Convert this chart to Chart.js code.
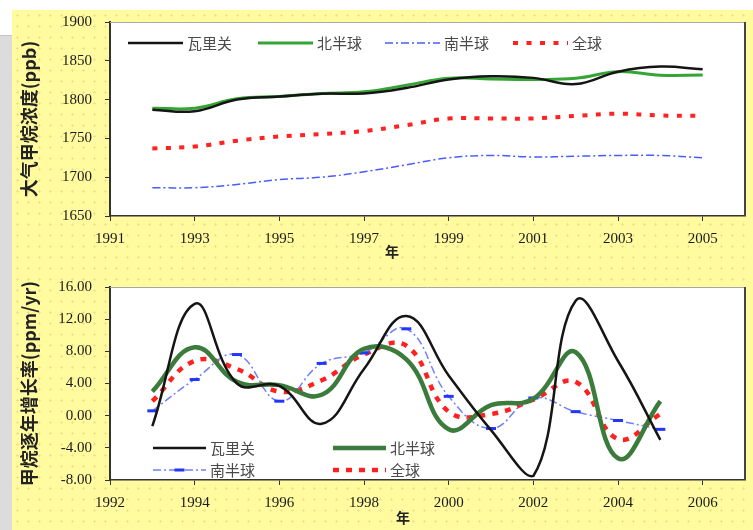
<!DOCTYPE html>
<html><head><meta charset="utf-8">
<script src="https://cdn.jsdelivr.net/npm/chart.js@4/dist/chart.umd.min.js"></script>
<style>
html,body{margin:0;padding:0;background:#fff;}
#page{position:relative;width:753px;height:530px;overflow:hidden;background:#fff;}
#gray{position:absolute;left:0;top:35px;width:12px;height:495px;background:#dcdcdc;border-top:1px solid #c4c4c4;}
#yellow{position:absolute;left:12px;top:10px;width:741px;height:520px;background-color:#fffb9e;background-image:radial-gradient(circle,#ece08a 0.9px,transparent 1.4px);background-size:11px 11px;}
.wrap{position:absolute;left:0;width:753px;height:265px;}
</style></head>
<body><div id="page"><div id="gray"></div><div id="yellow"></div>
<div class="wrap" style="top:0"><canvas id="c1" width="753" height="265"></canvas></div>
<div class="wrap" style="top:265px"><canvas id="c2" width="753" height="265"></canvas></div>
</div>
<script>
// ---------- data ----------
const seriesNames = ['瓦里关', '北半球', '南半球', '全球'];
const yearsTop = [1992,1993,1994,1995,1996,1997,1998,1999,2000,2001,2002,2003,2004,2005];
const topWaliguan = [1787,1785,1800,1804,1807.6,1808,1815,1826,1830,1828,1820,1836,1842.5,1839];
const topNorth    = [1789,1789,1801,1804,1808,1810,1818.5,1827.5,1826.6,1826,1827.5,1836,1831.5,1831.6];
const topSouth    = [1686.5,1686.5,1690.7,1697,1700,1707,1716,1725,1728,1726,1727,1728,1728,1725];
const topGlobal   = [1737,1739.5,1747,1752.5,1755.5,1759.5,1767,1775.6,1775.6,1775.8,1779,1781.8,1779.5,1779];
const topXTicks   = [1991,1993,1995,1997,1999,2001,2003,2005];

const yearsBottom = [1993,1994,1995,1996,1997,1998,1999,2000,2001,2002,2003,2004,2005];
const rateWaliguan = [-1.3,13.9,4.0,3.7,-1.0,5.8,12.4,5.0,-1.8,-7.5,14.3,6.8,-3.0];
const rateNorth    = [3.0,8.5,4.2,3.8,2.6,8.3,7.0,-1.7,1.3,2.1,7.9,-5.3,1.8];
const rateSouth    = [0.6,4.5,7.6,1.8,6.5,7.8,10.8,2.4,-1.6,2.2,0.5,-0.6,-1.7];
const rateGlobal   = [1.8,6.8,5.8,3.0,4.4,7.6,8.7,0.5,0.2,2.0,4.2,-2.9,0.2];
const bottomXTicks = [1992,1994,1996,1998,2000,2002,2004,2006];

const topYTitle = '大气甲烷浓度(ppb)';
const bottomYTitle = '甲烷逐年增长率(ppm/yr)';
const xTitle = '年';

// ---------- helpers ----------
const pts = (xs, ys) => xs.map((x, i) => ({x, y: ys[i]}));
const CJK = "'Noto Sans CJK SC','Noto Sans',sans-serif";
const SERIF = "'Liberation Serif','DejaVu Serif',serif";
const tickFont = {family: SERIF, size: 15};

function frameAndTextPlugin(cfg) {
  return {
    id: 'frameText',
    beforeDraw(chart) {
      const {ctx, chartArea: a} = chart;
      ctx.save();
      ctx.fillStyle = '#fff';
      ctx.fillRect(a.left, a.top, a.right - a.left, a.bottom - a.top);
      ctx.restore();
    },
    afterDraw(chart) {
      const {ctx, chartArea: a} = chart;
      ctx.save();
      ctx.strokeStyle = '#a8a8a8'; ctx.lineWidth = 1;
      ctx.beginPath(); ctx.moveTo(a.left, a.top + 0.5); ctx.lineTo(a.right, a.top + 0.5); ctx.stroke();
      ctx.strokeStyle = '#444'; ctx.lineWidth = 2;
      ctx.beginPath(); ctx.moveTo(a.right, a.top); ctx.lineTo(a.right, a.bottom); ctx.stroke();
      ctx.font = '15px ' + CJK;
      ctx.textBaseline = 'middle';
      cfg.legend.forEach(it => {
        const ds = chart.data.datasets[it.i];
        ctx.beginPath();
        ctx.strokeStyle = ds.borderColor;
        ctx.lineWidth = ds.borderWidth;
        ctx.setLineDash(ds.borderDash || []);
        ctx.moveTo(it.x, it.y); ctx.lineTo(it.x + it.len, it.y); ctx.stroke();
        ctx.setLineDash([]);
        if (ds.pointRadius) {
          ctx.beginPath();
          ctx.strokeStyle = ds.pointBorderColor; ctx.lineWidth = ds.pointBorderWidth;
          const mx = it.x + it.len / 2;
          ctx.moveTo(mx - ds.pointRadius, it.y); ctx.lineTo(mx + ds.pointRadius, it.y); ctx.stroke();
        }
        ctx.fillStyle = '#4a4a4a';
        ctx.textAlign = 'left';
        ctx.fillText(ds.label, it.x + it.len + 4, it.y);
      });
      ctx.font = 'bold 14px ' + CJK;
      ctx.fillStyle = '#222';
      ctx.textAlign = 'center';
      ctx.fillText(xTitle, cfg.xTitle.x, cfg.xTitle.y);
      ctx.restore();
    }
  };
}

function makeChart(id, o) {
  return new Chart(document.getElementById(id), {
    type: 'line',
    data: {datasets: o.datasets},
    options: {
      responsive: false, animation: false, events: [],
      layout: {padding: o.padding},
      plugins: {legend: {display: false}, tooltip: {enabled: false}},
      elements: {point: {radius: 0}, line: {tension: 0.42}},
      scales: {
        x: {
          type: 'linear', min: o.xMin, max: o.xMax,
          ticks: {autoSkip: false, maxRotation: 0,
                  font: tickFont, color: '#1a1a1a', padding: 9, callback: v => String(v)},
          afterBuildTicks: s => { s.ticks = o.xTicks.map(v => ({value: v})); },
          grid: {drawOnChartArea: false, tickLength: 5, color: '#333'},
          border: {color: '#333', width: 1.5},
          afterFit: s => { s.height = o.xAxisH; }
        },
        y: {
          min: o.yMin, max: o.yMax,
          ticks: {stepSize: o.yStep, font: tickFont, color: '#1a1a1a', padding: 13,
                  callback: o.yFmt},
          grid: {drawOnChartArea: false, tickLength: 5, color: '#333'},
          border: {color: '#333', width: 2},
          title: {display: true, text: o.yTitle, color: '#222',
                  font: {family: CJK, size: 18, weight: 'bold'}, padding: {top: 6, bottom: 0}},
          afterFit: s => { s.width = 98; }
        }
      }
    },
    plugins: [frameAndTextPlugin(o.extra)]
  });
}

makeChart('c1', {
  padding: {left: 12, top: 15, right: 8, bottom: 4},
  xMin: 1991, xMax: 2006, xAxisH: 45, xTicks: topXTicks,
  yMin: 1650, yMax: 1900, yStep: 50, yFmt: v => String(v),
  yTitle: topYTitle,
  datasets: [
    {label: seriesNames[0], data: pts(yearsTop, topWaliguan), borderColor: '#151515', borderWidth: 2.5},
    {label: seriesNames[1], data: pts(yearsTop, topNorth), borderColor: '#35a535', borderWidth: 3},
    {label: seriesNames[2], data: pts(yearsTop, topSouth), borderColor: '#4a5cff', borderWidth: 1.5, borderDash: [8,3,2,3]},
    {label: seriesNames[3], data: pts(yearsTop, topGlobal), borderColor: '#ff2222', borderWidth: 4, borderDash: [5,8.5]}
  ],
  extra: {
    legend: [{i:0,x:128,y:43,len:55},{i:1,x:258,y:43,len:55},{i:2,x:385,y:43,len:55},{i:3,x:513,y:43,len:55}],
    xTitle: {x: 392, y: 252}
  }
});

makeChart('c2', {
  padding: {left: 12, top: 12, right: 7, bottom: 5},
  xMin: 1992, xMax: 2007, xAxisH: 45, xTicks: bottomXTicks,
  yMin: -8, yMax: 16, yStep: 4, yFmt: v => v.toFixed(2),
  yTitle: bottomYTitle,
  datasets: [
    {label: seriesNames[0], data: pts(yearsBottom, rateWaliguan), borderColor: '#151515', borderWidth: 2.5},
    {label: seriesNames[1], data: pts(yearsBottom, rateNorth), borderColor: '#3b7b3b', borderWidth: 4.5},
    {label: seriesNames[2], data: pts(yearsBottom, rateSouth), borderColor: '#6f80ff', borderWidth: 1.5, borderDash: [8,3,2,3],
     pointStyle: 'line', pointRadius: 5, pointBorderWidth: 3, pointBorderColor: '#2236ff'},
    {label: seriesNames[3], data: pts(yearsBottom, rateGlobal), borderColor: '#ff2020', borderWidth: 4.5, borderDash: [6,7]}
  ],
  extra: {
    legend: [{i:0,x:153,y:183,len:53},{i:1,x:333,y:183,len:53},{i:2,x:153,y:205,len:53},{i:3,x:333,y:205,len:53}],
    xTitle: {x: 403, y: 253}
  }
});
</script>
</body></html>
